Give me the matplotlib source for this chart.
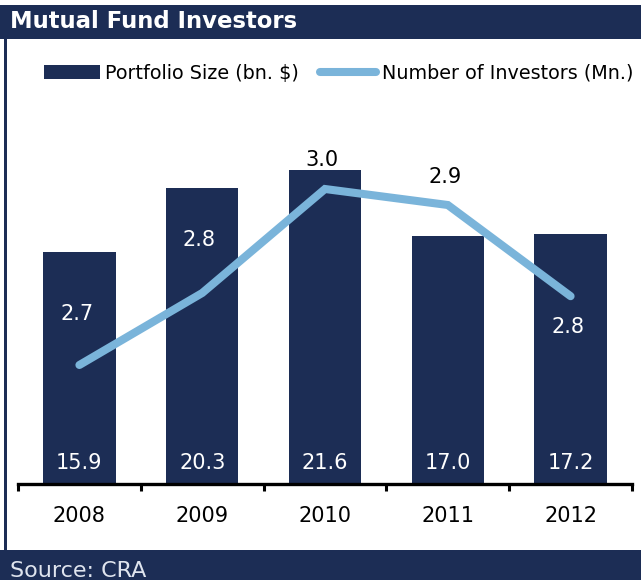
import matplotlib.pyplot as plt
from matplotlib.patches import Rectangle
from matplotlib.lines import Line2D

# Portfolio size and investor count by year
years = ["2008", "2009", "2010", "2011", "2012"]
portfolio_size = [15.9, 20.3, 21.6, 17.0, 17.2]
investors = [2.74, 2.83, 2.96, 2.94, 2.826]

navy = "#1c2d55"
light_blue = "#7ab4da"

fig = plt.figure(figsize=(6.41, 5.80), dpi=100)
W, H = 641, 580

# header bar, footer bar and left border
fig.patches.append(Rectangle((0, 1 - 39 / H), 1, 34 / H, transform=fig.transFigure,
                             facecolor=navy, edgecolor="none", zorder=0))
fig.patches.append(Rectangle((0, 0), 1, 30 / H, transform=fig.transFigure,
                             facecolor=navy, edgecolor="none", zorder=0))
fig.patches.append(Rectangle((4 / W, 0), 3 / W, 1 - 5 / H, transform=fig.transFigure,
                             facecolor=navy, edgecolor="none", zorder=0))

fig.text(10 / W, 1 - 22 / H, "Mutual Fund Investors", color="white",
         fontsize=16.4, fontweight="bold", va="center", ha="left")
fig.text(10 / W, 9 / H, "Source: CRA", color="#dfe4ee", fontsize=16,
         va="center", ha="left")

ax = fig.add_axes([18 / W, (H - 484) / H, 614 / W, 334 / H])
x = list(range(len(years)))

bars = ax.bar(x, portfolio_size, width=0.59, color=navy, zorder=2)
ax.set_xlim(-0.5, 4.5)
ax.set_ylim(0, 334 / 14.56)

for xi, v in zip(x, portfolio_size):
    ax.annotate(f"{v:.1f}", (xi, 0), xytext=(0, 15), textcoords="offset points",
                ha="center", va="center", color="white", fontsize=15, zorder=3)

ax.set_xticks(x)
ax.set_xticklabels(years, fontsize=15)
ax.set_xticks([i - 0.5 for i in range(len(years) + 1)], minor=True)
ax.tick_params(axis="x", which="major", length=0, pad=16)
ax.tick_params(axis="x", which="minor", length=5, width=2.2, direction="out")
ax.set_yticks([])
for side in ["left", "right", "top"]:
    ax.spines[side].set_visible(False)
ax.spines["bottom"].set_linewidth(2.4)

ax2 = ax.twinx()
ax2.plot(x, investors, color=light_blue, linewidth=5.8, solid_capstyle="round",
         solid_joinstyle="miter", zorder=4)
ax2.set_ylim(2.83 - 191 / 800, 2.83 + 143 / 800)
ax2.set_yticks([])
for side in ["left", "right", "top", "bottom"]:
    ax2.spines[side].set_visible(False)

label_offsets = [37, 38, 21, 20, -22]
label_colors = ["white", "white", "black", "black", "white"]
for xi, v, dy, c in zip(x, investors, label_offsets, label_colors):
    ax2.annotate(f"{v:.1f}", (xi, v), xytext=(-2, dy), textcoords="offset points",
                 ha="center", va="center", color=c, fontsize=15, zorder=5)

handles = [Rectangle((0, 0), 1, 1, facecolor=navy),
           Line2D([0], [0], color=light_blue, linewidth=5.8, solid_capstyle="round")]
fig.legend(handles, ["Portfolio Size (bn. $)", "Number of Investors (Mn.)"],
           loc="center left", bbox_to_anchor=(44 / W, 1 - 73 / H), ncol=2,
           frameon=False, fontsize=13.8, handlelength=2.9, handletextpad=0.3,
           columnspacing=1.1, borderpad=0, borderaxespad=0)

fig.savefig("out.png", dpi=100, facecolor="white")
